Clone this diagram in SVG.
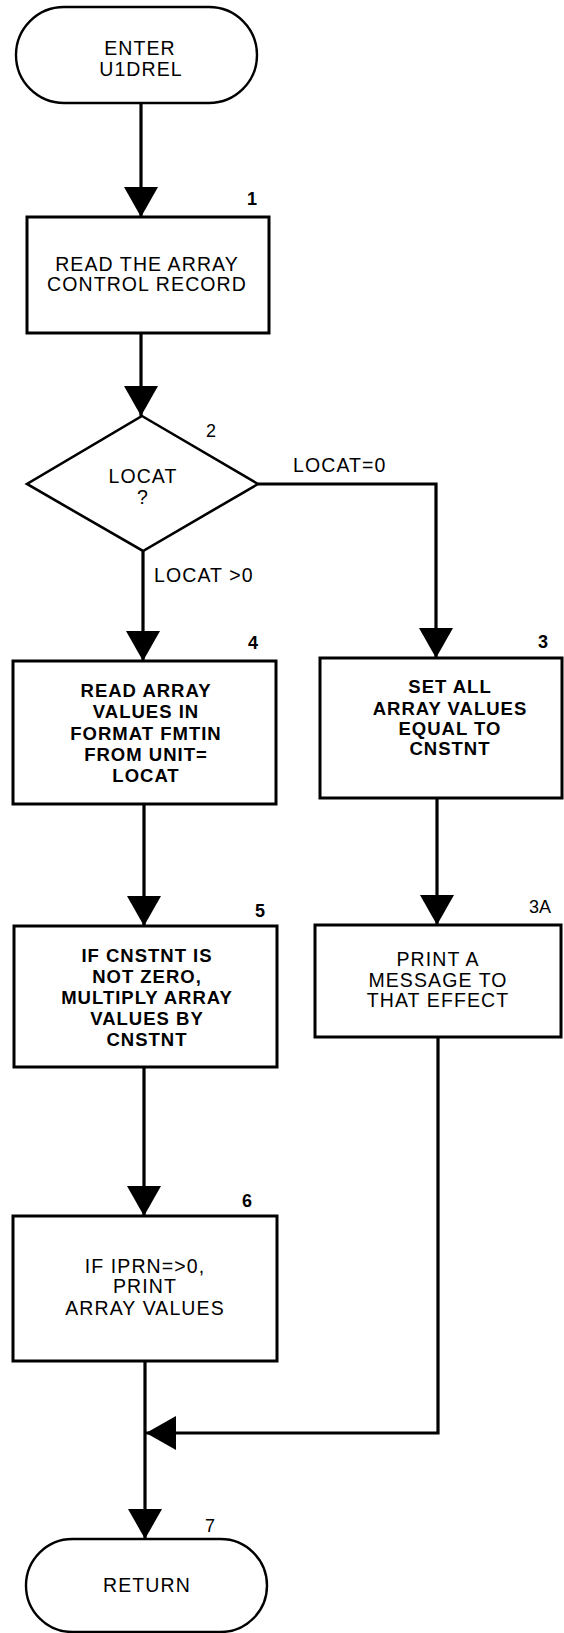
<svg xmlns="http://www.w3.org/2000/svg" width="564" height="1633" viewBox="0 0 564 1633">
  <style>
    .box { fill: #fff; stroke: #000; stroke-width: 3; }
    .term { fill: #fff; stroke: #000; stroke-width: 2.4; }
    .dia { fill: #fff; stroke: #000; stroke-width: 2.6; }
    .conn { fill: none; stroke: #000; stroke-width: 3.2; marker-end: url(#ah); }
    text { font-family: "Liberation Sans", Arial, Helvetica, sans-serif; fill: #000; }
    .t { font-size: 19.5px; letter-spacing: 1.1px; text-anchor: middle; }
    .tb { font-size: 18.5px; letter-spacing: 1px; text-anchor: middle; font-weight: bold; }
    .lbl { font-size: 19.5px; letter-spacing: 1.1px; }
    .num { font-size: 18px; text-anchor: middle; font-weight: bold; }
    .numr { font-size: 18px; text-anchor: middle; }
  </style>
  <defs>
    <marker id="ah" viewBox="0 0 30 34" refX="30" refY="17" markerWidth="30" markerHeight="34" markerUnits="userSpaceOnUse" orient="auto">
      <path d="M0,0 L30,17 L0,34 z" fill="#000"/>
    </marker>
  </defs>

  <g id="connectors">
    <path class="conn" d="M141,103 V217"/>
    <path class="conn" d="M141,333 V416"/>
    <path class="conn" d="M258,484 H436 V658"/>
    <path class="conn" d="M143,551 V661"/>
    <path class="conn" d="M144,804 V926"/>
    <path class="conn" d="M437,798 V925"/>
    <path class="conn" d="M144,1067 V1216"/>
    <path class="conn" d="M145,1361 V1539"/>
    <path class="conn" d="M438,1037 V1433 H146"/>
    <text class="lbl" x="293" y="472">LOCAT=0</text>
    <text class="lbl" x="154" y="582">LOCAT &gt;0</text>
  </g>

  <g id="start">
    <rect class="term" x="16" y="7" width="241" height="96" rx="48" ry="48"/>
    <text class="t" x="140" y="55">ENTER</text>
    <text class="t" x="141" y="76">U1DREL</text>
  </g>

  <g id="n1">
    <rect class="box" x="27" y="217" width="242" height="116"/>
    <text class="num" x="252" y="205">1</text>
    <text class="t" x="147" y="271">READ THE ARRAY</text>
    <text class="t" x="147" y="291">CONTROL RECORD</text>
  </g>

  <g id="n2">
    <polygon class="dia" points="142,416 258,484 143,551 27,484"/>
    <text class="numr" x="211" y="437">2</text>
    <text class="t" x="143" y="483">LOCAT</text>
    <text class="t" x="143" y="504">?</text>
  </g>

  <g id="n4">
    <rect class="box" x="13" y="661" width="263" height="143"/>
    <text class="num" x="253" y="649">4</text>
    <text class="tb" x="146" y="697">READ ARRAY</text>
    <text class="tb" x="146" y="718">VALUES IN</text>
    <text class="tb" x="146" y="740">FORMAT FMTIN</text>
    <text class="tb" x="146" y="761">FROM UNIT=</text>
    <text class="tb" x="146" y="782">LOCAT</text>
  </g>

  <g id="n3">
    <rect class="box" x="320" y="658" width="242" height="140"/>
    <text class="num" x="543" y="648">3</text>
    <text class="tb" x="450" y="693">SET ALL</text>
    <text class="tb" x="450" y="715">ARRAY VALUES</text>
    <text class="tb" x="450" y="735">EQUAL TO</text>
    <text class="tb" x="450" y="755">CNSTNT</text>
  </g>

  <g id="n5">
    <rect class="box" x="14" y="926" width="263" height="141"/>
    <text class="num" x="260" y="917">5</text>
    <text class="tb" x="147" y="962">IF CNSTNT IS</text>
    <text class="tb" x="147" y="983">NOT ZERO,</text>
    <text class="tb" x="147" y="1004">MULTIPLY ARRAY</text>
    <text class="tb" x="147" y="1025">VALUES BY</text>
    <text class="tb" x="147" y="1046">CNSTNT</text>
  </g>

  <g id="n3A">
    <rect class="box" x="315" y="925" width="246" height="112"/>
    <text class="numr" x="540" y="913">3A</text>
    <text class="t" x="438" y="966">PRINT A</text>
    <text class="t" x="438" y="987">MESSAGE TO</text>
    <text class="t" x="438" y="1007">THAT EFFECT</text>
  </g>

  <g id="n6">
    <rect class="box" x="13" y="1216" width="264" height="145"/>
    <text class="num" x="247" y="1207">6</text>
    <text class="t" x="145" y="1273">IF IPRN=&gt;0,</text>
    <text class="t" x="145" y="1293">PRINT</text>
    <text class="t" x="145" y="1315">ARRAY VALUES</text>
  </g>

  <g id="n7">
    <rect class="term" x="26" y="1539" width="241" height="93" rx="46.5" ry="46.5"/>
    <text class="numr" x="210" y="1532">7</text>
    <text class="t" x="147" y="1592">RETURN</text>
  </g>
</svg>
